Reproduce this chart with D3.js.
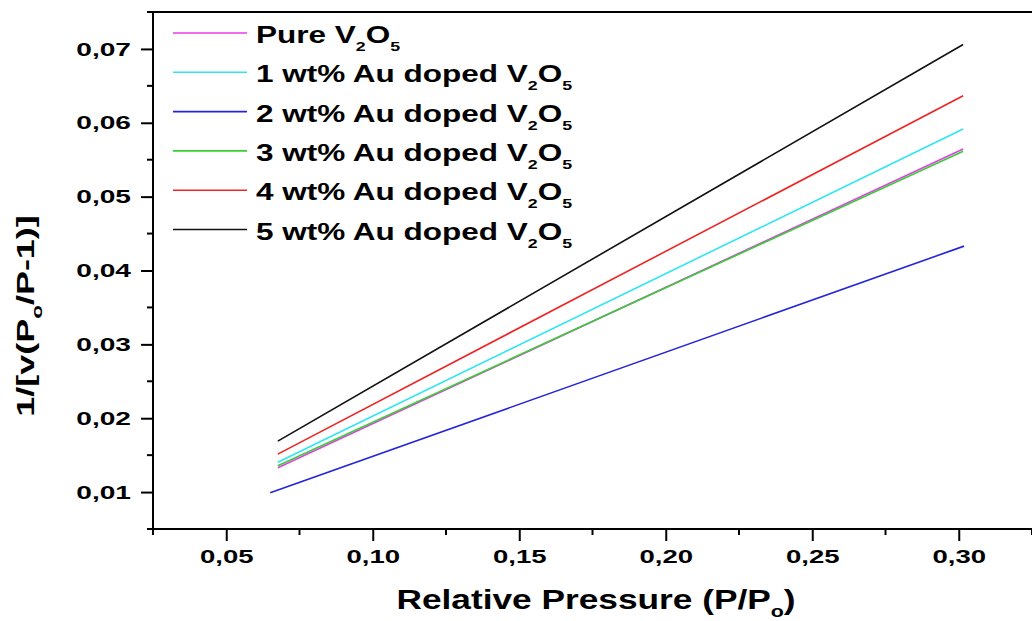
<!DOCTYPE html>
<html>
<head>
<meta charset="utf-8">
<script src="https://cdn.jsdelivr.net/npm/d3@7"></script>
<style>
  html, body { margin: 0; padding: 0; background: #fff; }
  svg { display: block; }
  text { font-family: "Liberation Sans", Arial, sans-serif; font-weight: bold; fill: #000; }
</style>
</head>
<body>
<svg id="chart" width="1032" height="621"></svg>
<script>
// BET linear fits: relative pressure vs 1/[v(Po/P-1)]
const seriesNames = ["Pure", "1 wt% Au doped", "2 wt% Au doped", "3 wt% Au doped", "4 wt% Au doped", "5 wt% Au doped"];
const seriesColors = ["#e83ce8", "#2ee6f0", "#2424d8", "#34d034", "#ec2626", "#111111"];
const pressure = [
  [0.0676, 0.3015],
  [0.0676, 0.3015],
  [0.0650, 0.3018],
  [0.0676, 0.3015],
  [0.0676, 0.3015],
  [0.0676, 0.3015]
];
const bet = [
  [0.01328, 0.05645],
  [0.01405, 0.05915],
  [0.00990, 0.04330],
  [0.01355, 0.05615],
  [0.01514, 0.06365],
  [0.01690, 0.07060]
];
const xTicks = [0.05, 0.10, 0.15, 0.20, 0.25, 0.30];
const xMinor = [0.025, 0.075, 0.125, 0.175, 0.225, 0.275, 0.325];
const yTicks = [0.01, 0.02, 0.03, 0.04, 0.05, 0.06, 0.07];
const yMinor = [0.005, 0.015, 0.025, 0.035, 0.045, 0.055, 0.065, 0.075];

const svg = d3.select("#chart");
const plotL = 153, plotR = 1032, plotT = 12, plotB = 529;

const x = d3.scaleLinear().domain([0.025, 0.325]).range([plotL, plotR]);
const y = d3.scaleLinear().domain([0.005, 0.075]).range([plotB, plotT]);

const fmt = d => d3.format(".2f")(d).replace(".", ",");

// Wide lettering: stretch text horizontally about its anchor point
function stretch(sel, sx) {
  sel.each(function () {
    const t = d3.select(this);
    const tx = +t.attr("x") || 0, ty = +t.attr("y") || 0;
    t.attr("x", 0).attr("y", 0).attr("transform", `translate(${tx},${ty}) scale(${sx},1)`);
  });
}

// Frame top edge
svg.append("line").attr("x1", plotL).attr("x2", plotR + 2).attr("y1", plotT).attr("y2", plotT)
  .attr("stroke", "#000").attr("stroke-width", 2);

// X axis
const xAxis = svg.append("g").attr("transform", `translate(0,${plotB})`);
xAxis.call(d3.axisBottom(x).tickValues(xTicks).tickFormat(fmt).tickSize(12).tickPadding(9))
  .call(g => g.select(".domain").attr("stroke-width", 2).attr("d", `M${plotL},0H${plotR + 2}`));
xAxis.selectAll(".tick line").attr("stroke-width", 2);
xAxis.selectAll(".tick text").style("font-size", "19px").attr("font-family", null).call(stretch, 1.45);
xAxis.selectAll(".minor").data(xMinor).enter().append("line").attr("class", "minor")
  .attr("x1", d => x(d)).attr("x2", d => x(d)).attr("y1", 0).attr("y2", 6)
  .attr("stroke", "#000").attr("stroke-width", 2);

// Y axis
const yAxis = svg.append("g").attr("transform", `translate(${plotL},0)`);
yAxis.call(d3.axisLeft(y).tickValues(yTicks).tickFormat(fmt).tickSize(12).tickPadding(10))
  .call(g => g.select(".domain").attr("stroke-width", 2).attr("d", `M0,${plotB + 1}V${plotT - 1}`));
yAxis.selectAll(".tick line").attr("stroke-width", 2);
yAxis.selectAll(".tick text").style("font-size", "19px").attr("font-family", null).call(stretch, 1.48);
yAxis.selectAll(".minor").data(yMinor).enter().append("line").attr("class", "minor")
  .attr("x1", 0).attr("x2", -6).attr("y1", d => y(d)).attr("y2", d => y(d))
  .attr("stroke", "#000").attr("stroke-width", 2);

// Fit lines
const line = d3.line().x(d => x(d[0])).y(d => y(d[1]));
seriesNames.forEach((name, i) => {
  const pts = pressure[i].map((p, j) => [p, bet[i][j]]);
  svg.append("path").datum(pts).attr("d", line)
    .attr("fill", "none").attr("stroke", seriesColors[i]).attr("stroke-width", 1.6);
});

// Legend
const legend = svg.append("g");
const legendY = d3.scaleLinear().domain([0, 1]).range([33, 72.3]);
seriesNames.forEach((name, i) => {
  const yy = legendY(i);
  legend.append("line").attr("x1", 173).attr("x2", 247).attr("y1", yy).attr("y2", yy)
    .attr("stroke", seriesColors[i]).attr("stroke-width", 1.6);
  const t = legend.append("text").attr("x", 256).attr("y", yy + 10).style("font-size", "23px");
  t.append("tspan").text(name + " V");
  t.append("tspan").attr("dy", 8).style("font-size", "13px").text("2");
  t.append("tspan").attr("dy", -8).text("O");
  t.append("tspan").attr("dy", 8).style("font-size", "13px").text("5");
  t.call(stretch, 1.37);
});

// Axis titles
const xt = svg.append("text").attr("x", 596).attr("y", 609).attr("text-anchor", "middle").style("font-size", "28px");
xt.append("tspan").text("Relative Pressure (P/P");
xt.append("tspan").attr("dy", 8).style("font-size", "17px").text("o");
xt.append("tspan").attr("dy", -8).text(")");
xt.call(stretch, 1.26);

const yt = svg.append("text").attr("transform", "translate(34,316) rotate(-90) scale(1.5,1)")
  .attr("text-anchor", "middle").style("font-size", "24px");
yt.append("tspan").text("1/[v(P");
yt.append("tspan").attr("dy", 8).style("font-size", "15px").text("o");
yt.append("tspan").attr("dy", -8).text("/P-1)]");
</script>
</body>
</html>
